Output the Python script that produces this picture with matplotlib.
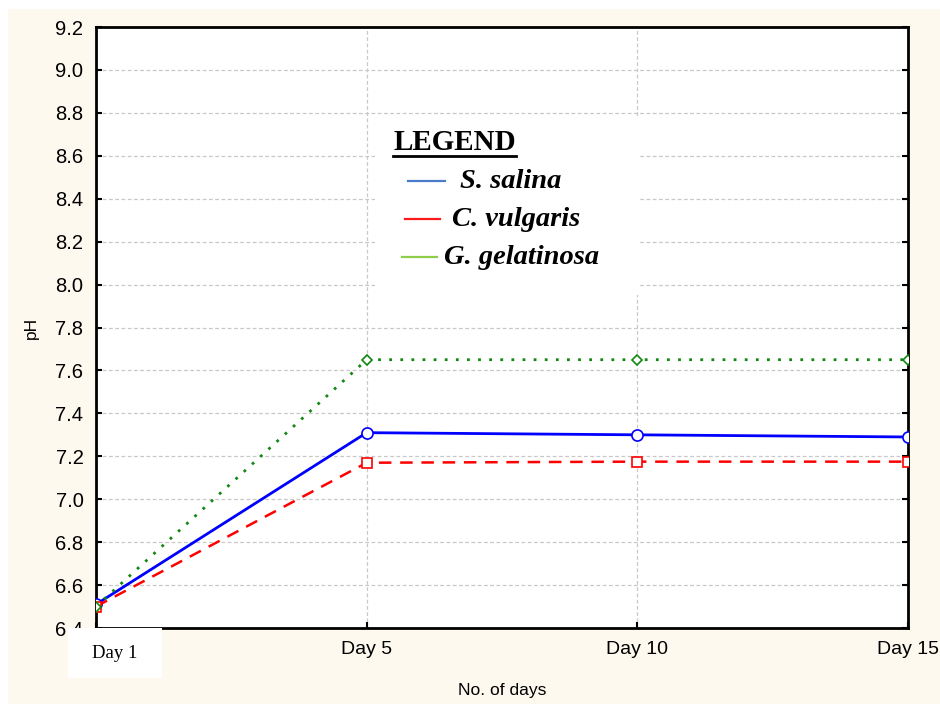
#!/usr/bin/env python3

import numpy as np
import matplotlib
matplotlib.use("Agg")
import matplotlib.pyplot as plt
from matplotlib.patches import Rectangle
from matplotlib.lines import Line2D

days = ["Day 1", "Day 5", "Day 10", "Day 15"]
s_salina = [6.51, 7.31, 7.30, 7.29]
c_vulgaris = [6.50, 7.17, 7.175, 7.175]
g_gelatinosa = [6.50, 7.65, 7.65, 7.65]
species = ["S. salina", "C. vulgaris", "G. gelatinosa"]
legend_colors = ["#4a7cc7", "#ff1a1a", "#8fce4a"]
yticks = np.round(np.arange(6.4, 9.21, 0.2), 1)

plt.rcParams["font.family"] = ["Liberation Sans", "DejaVu Sans"]

W, H = 940, 704
fig = plt.figure(figsize=(W / 100, H / 100), dpi=100, facecolor="white")

# cream background panel
fig.patches.append(Rectangle((8 / W, 0), 1, (H - 9) / H, transform=fig.transFigure,
                             facecolor="#fdf9ef", edgecolor="none", zorder=-10))

ax = fig.add_axes([96 / W, (H - 628) / H, (908 - 96) / W, (628 - 27) / H])
ax.set_facecolor("white")

x = np.arange(len(days))
ax.plot(x, s_salina, color="#0000ff", lw=2, ls="-", marker="o", ms=8,
        mfc="white", mec="#0000ff", mew=1.2, zorder=4)
ax.plot(x, c_vulgaris, color="#ff0000", lw=1.8, ls=(0, (5, 3.5)), marker="s", ms=7,
        mfc="white", mec="#ff0000", mew=1.2, zorder=4)
ax.plot(x, g_gelatinosa, color="#118811", lw=2, ls=(0, (1, 3)), marker="D", ms=5.5,
        mfc="white", mec="#118811", mew=1.2, zorder=4)

ax.set_xlim(0, 3)
ax.set_ylim(6.4, 9.2)
ax.set_yticks(yticks)
ax.set_yticklabels([f"{v:.1f}" for v in yticks], fontsize=14.5)
ax.set_xticks(x)
ax.set_xticklabels([""] + days[1:], fontsize=14)
ax.tick_params(direction="in", length=4, width=1.5, right=True, top=False, pad=9)
ax.tick_params(axis="x", pad=9)
ax.grid(True, color="#c8c8c8", ls=(0, (3, 2)), lw=0.9)
for sp in ax.spines.values():
    sp.set_linewidth(2)
    sp.set_color("black")

ax.set_ylabel("pH", fontsize=12.5, labelpad=12)
ax.set_xlabel("No. of days", fontsize=12.5, labelpad=18)

# "Day 1" label on white box
fig.patches.append(Rectangle((68 / W, (H - 678) / H), 94 / W, 50 / H,
                             transform=fig.transFigure, facecolor="white",
                             edgecolor="none", zorder=5))
fig.text(115 / W, (H - 653) / H, days[0], ha="center", va="center",
         family="Liberation Serif", fontsize=13.5, zorder=6)

# legend panel
fig.patches.append(Rectangle((375 / W, (H - 295) / H), (640 - 375) / W, 177 / H,
                             transform=fig.transFigure, facecolor="white",
                             edgecolor="none", zorder=5))
fig.text(393 / W, (H - 142) / H, "LEGEND", ha="left", va="center",
         family="Liberation Serif", fontweight="bold", fontsize=21, zorder=6)
fig.lines.append(Line2D([393 / W, 516 / W], [(H - 156) / H] * 2,
                        transform=fig.transFigure, color="black", lw=2, zorder=6))

handle_x = [(408, 445), (405, 440), (402, 437)]
text_x = [460, 452, 444]
rows_y = [181, 219, 257]
for name, col, (hx0, hx1), tx, ry in zip(species, legend_colors, handle_x, text_x, rows_y):
    fig.lines.append(Line2D([hx0 / W, hx1 / W], [(H - ry) / H] * 2,
                            transform=fig.transFigure, color=col, lw=1.6, zorder=6))
    fig.text(tx / W, (H - ry) / H, name, ha="left", va="center",
             family="Liberation Serif", fontweight="bold", fontstyle="italic",
             fontsize=20.5, zorder=6)

fig.savefig("out.png", dpi=100, facecolor=fig.get_facecolor())
